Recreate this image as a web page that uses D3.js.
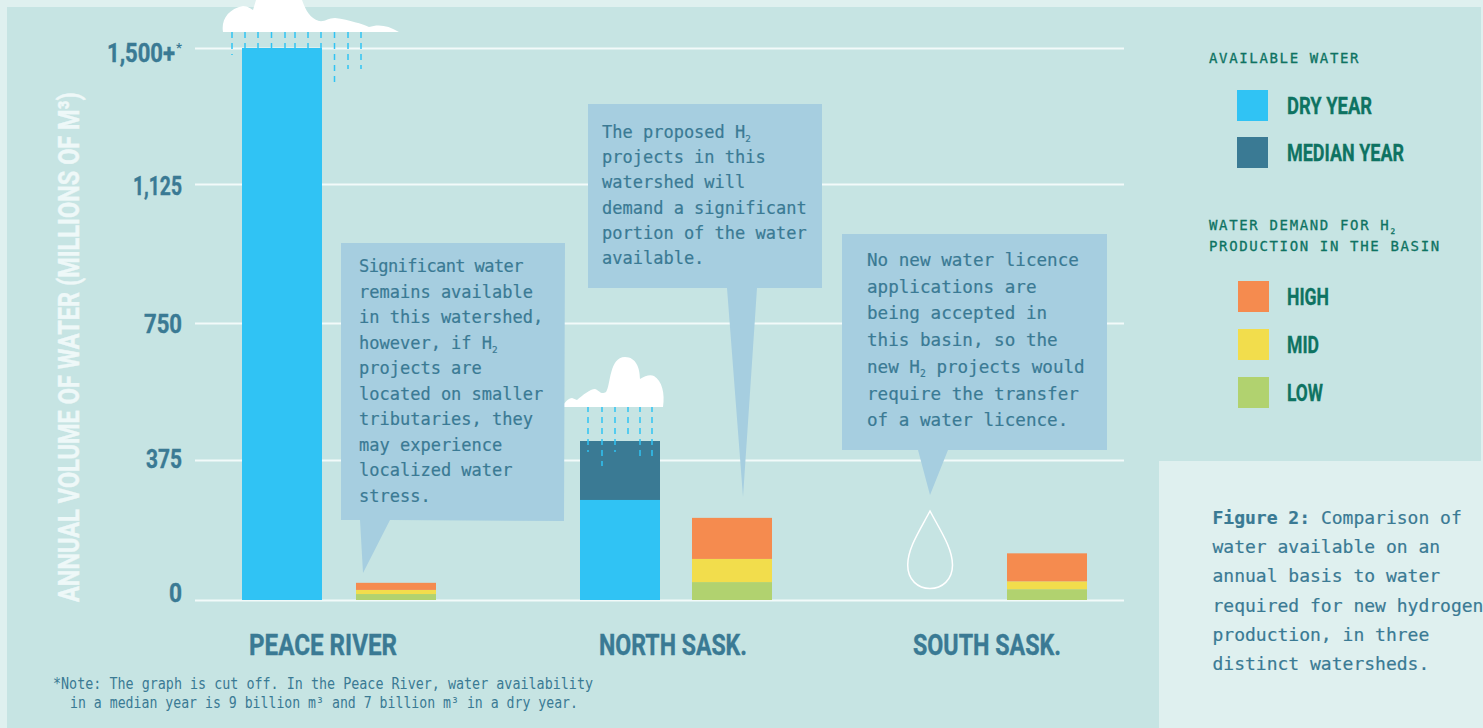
<!DOCTYPE html>
<html>
<head>
<meta charset="utf-8">
<style>
  html, body { margin: 0; padding: 0; background: #dff0ef; overflow: hidden; }
  svg { display: block; }
  .mono { font-family: "DejaVu Sans Mono", monospace; }
  .narrow { font-family: Roboto, "Liberation Sans", sans-serif; font-weight: 700; }
</style>
</head>
<body>
<div class="container"></div>
<script src="https://d3js.org/d3.v7.min.js"></script>
<script>
// data, millions of m3
var basins = ['PEACE RIVER', 'NORTH SASK.', 'SOUTH SASK.'];
var dryYear = [1500, 268, 0];
var medianYear = [1500, 427, 0];
var demandLow = [16, 48, 29];
var demandMid = [11, 62, 21];
var demandHigh = [19, 110, 75];
var demandKeys = ['low', 'mid', 'high'];
var yTicks = [0, 375, 750, 1125, 1500];
var yTickLabels = ['0', '375', '750', '1,125', '1,500+'];

var note1Lines = ['Significant water', 'remains available', 'in this watershed,', 'however, if H2', 'projects are', 'located on smaller', 'tributaries, they', 'may experience', 'localized water', 'stress.'];
var note2Lines = ['The proposed H2', 'projects in this', 'watershed will', 'demand a significant', 'portion of the water', 'available.'];
var note3Lines = ['No new water licence', 'applications are', 'being accepted in', 'this basin, so the', 'new H2 projects would', 'require the transfer', 'of a water licence.'];
var figureLines = ['Comparison of', 'water available on an', 'annual basis to water', 'required for new hydrogen', 'production, in three', 'distinct watersheds.'];

var colors = { dry: '#30c3f4', median: '#3a7a94', high: '#f58b4f', mid: '#f2dd4c', low: '#b1d26f' };
var ink = '#3a7a94', green = '#0e7362', bubble = '#a6cee0', panel = '#c6e4e3', pale = '#dff0ef';

var width = 1483, height = 728;
var svg = d3.select('.container').append('svg').attr('width', width).attr('height', height);

svg.append('rect').attr('width', width).attr('height', height).attr('fill', pale);
svg.append('rect').attr('x', 7).attr('y', 7).attr('width', 1474).attr('height', 721).attr('fill', panel);
svg.append('rect').attr('x', 1159).attr('y', 461).attr('width', 324).attr('height', 267).attr('fill', pale);

// gridlines are not quite evenly spaced in the original
var y = d3.scaleLinear().domain(yTicks).range([600, 460, 323, 184, 48]);
var dryX = d3.scaleOrdinal().domain(basins).range([242, 580, 895]);
var demandX = d3.scaleOrdinal().domain(basins).range([356, 692, 1007]);
var labelX = d3.scaleOrdinal().domain(basins).range([323, 673, 987]);
var barW = 80;

var axis = d3.axisLeft(y)
  .tickValues(yTicks)
  .tickSize(929)
  .tickPadding(13)
  .tickFormat(function(d, i) { return yTickLabels[i]; });

var tickWidth = [13, 36, 38, 49, 68];
var tickNudge = [-8, -2, 0, 1, 4];

var axisG = svg.append('g').attr('transform', 'translate(1124,0)').call(axis);
axisG.select('.domain').remove();
axisG.selectAll('line').attr('stroke', '#f2fafa').attr('stroke-width', 2);
axisG.selectAll('text')
  .attr('class', 'narrow')
  .attr('fill', ink)
  .attr('stroke', ink)
  .attr('stroke-width', 0.4)
  .style('font-size', '26px')
  .attr('dy', null)
  .attr('y', function(d, i) { return 9 + tickNudge[i]; })
  .attr('textLength', function(d, i) { return tickWidth[i]; })
  .attr('lengthAdjust', 'spacingAndGlyphs');

// the asterisk sits beside the top label, which moves left to make room
axisG.selectAll('.tick').filter(function(d) { return d === 1500; }).each(function() {
  var tick = d3.select(this);
  var label = tick.select('text');
  var lx = +label.attr('x');
  label.attr('x', lx - 7);
  tick.append('text')
    .attr('class', 'narrow')
    .attr('x', lx)
    .attr('y', 3)
    .attr('text-anchor', 'end')
    .attr('fill', ink)
    .style('font-size', '13px')
    .text('*');
});

function rain(layer, bottoms, top) {
  layer.selectAll(null).data(bottoms).enter().append('line')
    .attr('x1', function(d) { return d[0]; })
    .attr('x2', function(d) { return d[0]; })
    .attr('y1', top)
    .attr('y2', function(d) { return d[1]; })
    .attr('stroke', '#30c3f4')
    .attr('stroke-width', 1.5)
    .attr('stroke-dasharray', '6 5');
}
// rain behind the first bar
var rainA = svg.append('g');
rain(rainA, [[232, 55], [245, 50], [258, 50], [271.5, 50], [285, 50], [295, 50], [308, 50], [321, 50], [334.5, 83], [348, 69], [361, 69]], 32);

// available water bars
svg.append('g').selectAll('rect').data(basins).enter().append('rect')
  .attr('x', function(d) { return dryX(d); })
  .attr('y', function(d, i) { return y(medianYear[i]); })
  .attr('width', barW)
  .attr('height', function(d, i) { return y(0) - y(medianYear[i]); })
  .attr('fill', colors.median);
svg.append('g').selectAll('rect').data(basins).enter().append('rect')
  .attr('x', function(d) { return dryX(d); })
  .attr('y', function(d, i) { return y(dryYear[i]); })
  .attr('width', barW)
  .attr('height', function(d, i) { return y(0) - y(dryYear[i]); })
  .attr('fill', colors.dry);

// demand stacks
var demandRows = basins.map(function(b, i) {
  return { basin: b, low: demandLow[i], mid: demandMid[i], high: demandHigh[i] };
});
var stacked = d3.stack().keys(demandKeys)(demandRows);
svg.append('g').selectAll('g').data(stacked).enter().append('g')
  .attr('fill', function(s) { return colors[s.key]; })
  .selectAll('rect').data(function(s) { return s; }).enter().append('rect')
  .attr('x', function(d) { return demandX(d.data.basin); })
  .attr('y', function(d) { return y(d[1]); })
  .attr('width', barW)
  .attr('height', function(d) { return y(d[0]) - y(d[1]); });

// clouds, rain over the north bar, drop
var rainB = svg.append('g');
rain(rainB, [[588, 452], [602, 466], [615, 452], [628, 439], [640, 460], [652, 460]], 406);

svg.append('path').attr('fill', '#fff')
  .attr('d', 'M223,32 C221,20 228,9 243,6 C248,6 251,9 253,10 L256,0 L302,0 C306,11 310,18 319,21 C325,22 328,18 335,18 C350,20 362,24 369,27 C378,24 388,25 399,32 Z');
svg.append('path').attr('fill', '#fff')
  .attr('d', 'M561,407 C564,405 566,399 572,398 L577,400 C583,395 590,389 595,389 C600,391 601,395 606,392 C611,385 609,357 625,357 C636,357 640,368 640,379 C645,376 650,374 654,376 C662,381 665,393 663,407 Z');
svg.append('path').attr('fill', 'none').attr('stroke', '#fff').attr('stroke-width', 1.5)
  .attr('d', 'M930,511 C920,530 907.7,548 907.7,565 C907.7,580 918,588.5 930,588.5 C942,588.5 952.5,580 952.5,565 C952.5,548 940,530 930,511 Z');

// speech bubbles
var bubbleShapes = [
  [[341, 243], [565, 243], [564, 521], [390, 520], [363, 573], [360, 520], [341, 520]],
  [[588, 104], [822, 104], [822, 288], [757, 288], [743, 497], [727, 288], [588, 288]],
  [[842, 234], [1107, 234], [1107, 450], [948, 450], [930, 495], [918, 450], [842, 450]]
];
svg.append('g').selectAll('polygon').data(bubbleShapes).enter().append('polygon')
  .attr('points', function(d) { return d.join(' '); })
  .attr('fill', bubble);

// H2 gets a small subscript
function addLine(g, str, x, yPos, size, fill, extra) {
  var t = g.append('text').attr('class', 'mono').attr('x', x).attr('y', yPos)
    .attr('fill', fill).style('font-size', size + 'px');
  if (extra) t.style('letter-spacing', extra + 'px');
  var idx = str.indexOf('H2');
  if (idx < 0) { t.text(str); return t; }
  t.append('tspan').text(str.slice(0, idx + 1));
  t.append('tspan').attr('dy', 4).style('font-size', (size * 0.55) + 'px').text('2');
  t.append('tspan').attr('dy', -4).text(str.slice(idx + 2));
  return t;
}

var textG = svg.append('g').attr('stroke', ink).attr('stroke-width', 0.2);
// the original sets "fi" as a ligature on the first line
note1Lines.forEach(function(l, i) { addLine(textG, l, 359, 272 + i * 25.5, 17, ink, i === 0 ? -0.6 : 0); });
note2Lines.forEach(function(l, i) { addLine(textG, l, 602, 138 + i * 25.2, 17, ink); });
note3Lines.forEach(function(l, i) { addLine(textG, l, 867, 266 + i * 26.7, 17.6, ink); });

// figure caption
var capG = svg.append('g').attr('stroke', ink).attr('stroke-width', 0.2);
figureLines.forEach(function(l, i) {
  var t = addLine(capG, i === 0 ? '' : l, 1212.5, 524 + i * 29.2, 18, ink);
  if (i === 0) {
    t.append('tspan').style('font-weight', 700).text('Figure 2: ');
    t.append('tspan').text(l);
  }
});

// basin labels
svg.append('g').selectAll('text').data(basins).enter().append('text')
  .attr('class', 'narrow')
  .attr('text-anchor', 'middle')
  .attr('x', function(d) { return labelX(d); })
  .attr('y', 655)
  .attr('fill', ink)
  .attr('stroke', ink)
  .attr('stroke-width', 0.4)
  .attr('textLength', 148)
  .attr('lengthAdjust', 'spacingAndGlyphs')
  .style('font-size', '29px')
  .text(function(d) { return d; });

// y title, squeezed to the length in the original
var yTitle = svg.append('text')
  .attr('class', 'narrow')
  .attr('fill', '#eef8f8')
  .attr('stroke', '#eef8f8')
  .attr('stroke-width', 0.4)
  .style('font-size', '30px')
  .text('ANNUAL VOLUME OF WATER (MILLIONS OF M\u00B3)');
var titleScale = 510 / yTitle.node().getComputedTextLength();
yTitle.attr('transform', 'translate(79,602) rotate(-90) scale(' + titleScale + ',1)');

// legend
var legendWater = [['DRY YEAR', 'dry', 90, 85], ['MEDIAN YEAR', 'median', 137, 117]];
var legendDemand = [['HIGH', 'high', 281, 42], ['MID', 'mid', 329, 32], ['LOW', 'low', 377, 36]];
var legendG = svg.append('g');
var headG = legendG.append('g').attr('stroke', green).attr('stroke-width', 0.3);
addLine(headG, 'AVAILABLE WATER', 1209, 63, 14, green, 1.65);
addLine(headG, 'WATER DEMAND FOR H2', 1209, 230, 14, green, 1.65);
addLine(headG, 'PRODUCTION IN THE BASIN', 1209, 251, 14, green, 1.65);
legendWater.concat(legendDemand).forEach(function(d) {
  var sx = d[2] > 200 ? 1238 : 1237;
  legendG.append('rect').attr('x', sx).attr('y', d[2]).attr('width', 31).attr('height', 31).attr('fill', colors[d[1]]);
  legendG.append('text').attr('class', 'narrow')
    .attr('x', 1287).attr('y', d[2] + 24)
    .attr('fill', green)
    .attr('stroke', green)
    .attr('stroke-width', 0.3)
    .attr('textLength', d[3])
    .attr('lengthAdjust', 'spacingAndGlyphs')
    .style('font-size', '23px')
    .text(d[0]);
});

// footnote
var noteLines = [
  ['*Note: The graph is cut off. In the Peace River, water availability', 53, 689, 540],
  ['in a median year is 9 billion m\u00B3 and 7 billion m\u00B3 in a dry year.', 70, 708, 508]
];
svg.append('g').selectAll('text').data(noteLines).enter().append('text')
  .attr('class', 'mono')
  .attr('x', function(d) { return d[1]; })
  .attr('y', function(d) { return d[2]; })
  .attr('textLength', function(d) { return d[3]; })
  .attr('lengthAdjust', 'spacingAndGlyphs')
  .attr('fill', ink)
  .style('font-size', '15px')
  .text(function(d) { return d[0]; });
</script>
</body>
</html>
